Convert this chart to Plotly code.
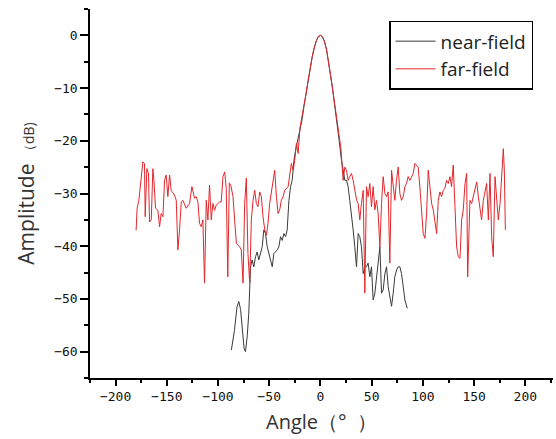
import plotly.graph_objects as go

# ---- data ----
far_angle = [-180, -179, -177.3, -175.0, -173.4, -171.8, -171.1, -169.5, -167.9, -166.9,
             -165.2, -163.6, -162.6, -161.0, -158.7, -157.1, -155.5, -153.8, -152.2, -150.6,
             -149.0, -147.3, -145.7, -144.1, -142.5, -140.8, -139.2, -137.6, -135.9, -134.3,
             -132.7, -131.1, -127.8, -125.5, -122.9, -121.3, -119.7, -118.0, -116.4, -114.8,
             -113.2, -111.5, -109.9, -108.3, -106.6, -105.0, -103.4, -101.8, -100.1, -98.5,
             -96.9, -95.2, -93.5, -92.0, -90.5, -89.0, -87.5, -85.4, -83.8, -82.1,
             -78.9, -77.3, -75.6, -74.0, -72.4, -70.8, -69.1, -67.5, -65.8, -64.2,
             -62.6, -61.0, -59.3, -57.7, -56.1, -54.4, -52.8, -51.2, -49.6, -47.9,
             -46.3, -44.7, -43.0, -41.4, -39.8, -38.2, -36.5, -34.9, -31.6, -30.0,
             -28.4, -26.7, -25.1, -23.5, -21.8, -20, -18, -16, -14, -12,
             -10, -8, -6, -4, -2, 0, 2, 4, 6, 8,
             10, 12, 14, 16, 18, 20, 22.1, 23.8, 25.4, 27.0,
             28.6, 30.3, 31.9, 33.5, 35.2, 36.8, 38.4, 40.0, 41.7, 43.3,
             44.9, 46.5, 48.2, 49.8, 51.4, 53.1, 54.7, 56.3, 58.0, 59.6,
             61.2, 62.9, 64.5, 66.1, 67.7, 69.4, 71.0, 72.6, 74.2, 75.9,
             77.5, 79.1, 80.8, 82.4, 84.0, 85.6, 87.3, 90.5, 92.2, 95.4,
             97.0, 98.7, 100.3, 102.0, 103.6, 105.2, 106.8, 108.5, 110.1, 111.7,
             113.4, 115.0, 116.6, 118.2, 119.9, 121.5, 123.1, 124.8, 126.4, 128.0,
             129.6, 131.3, 132.9, 134.5, 136.2, 137.8, 139.4, 141.1, 142.7, 143.7,
             145.9, 147.6, 149.2, 150.8, 152.5, 154.1, 155.7, 157.3, 159.0, 160.6,
             162.2, 163.9, 165.5, 167.1, 168.7, 170.4, 172.0, 173.6, 175.3, 176.9,
             178.5, 179.5, 180.5]
far_db = [-37.0, -32.8, -31.3, -26.5, -24.0, -24.3, -34.4, -25.3, -26.2, -35.4,
          -35.0, -25.3, -27.5, -32.8, -33.2, -36.3, -33.8, -34.4, -27.5, -26.5,
          -30.6, -26.5, -29.5, -29.8, -30.3, -31.3, -40.7, -37.0, -31.6, -31.3,
          -31.9, -32.8, -31.9, -28.7, -30.9, -30.6, -31.6, -35.7, -36.3, -35.0,
          -47.0, -31.3, -35.0, -28.4, -35.0, -31.9, -33.2, -32.2, -31.9, -31.6,
          -31.6, -26.8, -25.9, -29.0, -45.8, -28.0, -28.5, -30.6, -35.0, -39.5,
          -40.1, -40.7, -47.0, -31.9, -27.1, -41.4, -47.0, -35.0, -31.3, -29.4,
          -31.9, -32.5, -29.7, -30.6, -34.4, -36.9, -37.9, -35.7, -31.9, -30.0,
          -27.5, -25.6, -30.6, -33.8, -33.1, -31.3, -30.6, -29.4, -28.7, -26.8,
          -24.3, -25.6, -23.7, -20.5, -22.4, -17.5, -15.5, -13.3, -11.0, -8.5,
          -6.0, -4.0, -2.3, -1.0, -0.2, 0.0, -0.3, -1.2, -2.8, -5.0,
          -7.8, -10.4, -13.2, -16.0, -18.8, -21.5, -27.5, -25.0, -25.6, -27.5,
          -26.8, -26.2, -27.5, -29.5, -31.2, -31.9, -35.0, -31.9, -29.4, -48.9,
          -28.7, -30.6, -28.1, -32.5, -28.7, -33.1, -31.3, -33.8, -40.1, -31.9,
          -26.8, -30.0, -30.6, -29.7, -43.2, -25.6, -28.7, -31.3, -27.5, -25.0,
          -30.0, -31.3, -30.6, -28.7, -28.1, -26.8, -27.5, -26.2, -24.3, -25.0,
          -28.7, -32.5, -37.6, -38.5, -33.8, -25.6, -28.1, -31.9, -33.1, -35.0,
          -37.6, -31.3, -29.7, -30.6, -29.4, -29.0, -27.5, -28.1, -26.8, -28.7,
          -24.6, -32.5, -40.1, -42.0, -42.3, -35.0, -33.1, -28.1, -26.2, -45.8,
          -31.3, -31.9, -30.6, -29.4, -27.8, -30.6, -33.1, -35.0, -31.3, -30.0,
          -28.1, -35.0, -26.2, -38.2, -42.0, -26.8, -30.6, -35.0, -31.9, -25.6,
          -21.5, -25.6, -36.9]

near_angle = [-87.0, -84.0, -81.5, -79.7, -78.0, -76.0, -74.5, -73.2, -71.5, -70.0,
              -68.3, -66.7, -65.1, -63.4, -61.8, -60.2, -58.5, -56.9, -55.3, -53.6,
              -52.0, -50.4, -48.8, -47.1, -45.5, -43.9, -42.2, -40.6, -39.0, -37.4,
              -35.7, -34.1, -32.5, -30.8, -29.2, -27.6, -25.9, -24.3, -21.0, -18.0,
              -16, -14, -12, -10, -8, -6, -4, -2, 0, 2,
              4, 6, 8, 10, 12, 14, 16, 18.9, 20.5, 22.1,
              23.8, 25.4, 27.0, 28.6, 30.3, 31.9, 33.5, 35.2, 36.8, 38.4,
              40.0, 41.7, 43.3, 44.9, 46.5, 48.2, 49.8, 51.4, 53.1, 54.7,
              56.3, 58.0, 59.6, 61.2, 62.9, 64.5, 66.1, 67.7, 69.4, 71.0,
              72.6, 74.3, 75.9, 77.5, 79.1, 80.8, 82.4, 84.7]
near_db = [-59.7, -56.0, -51.5, -50.5, -52.0, -56.5, -59.5, -60.0, -57.0, -52.7,
           -43.9, -42.6, -43.9, -42.0, -41.1, -42.6, -41.4, -40.1, -36.9, -37.6,
           -40.1, -41.4, -42.6, -43.9, -41.4, -41.1, -40.7, -40.1, -38.2, -38.9,
           -37.6, -38.2, -36.9, -31.3, -28.7, -27.5, -23.7, -21.8, -18.6, -16.0,
           -13.3, -11.0, -8.5, -6.0, -4.0, -2.3, -1.0, -0.2, 0.0, -0.3,
           -1.2, -2.8, -5.0, -7.8, -10.4, -13.2, -16.0, -21.0, -23.7, -25.6,
           -27.5, -27.5, -28.7, -31.3, -33.8, -36.9, -40.1, -43.9, -37.6, -38.2,
           -40.1, -45.2, -43.9, -43.9, -43.2, -45.8, -43.9, -50.2, -48.9, -46.4,
           -43.9, -40.1, -48.9, -48.3, -45.2, -43.9, -47.7, -49.6, -51.4, -48.9,
           -45.8, -44.5, -43.9, -43.9, -45.2, -47.7, -50.2, -51.8]

x_ticks = [-200, -150, -100, -50, 0, 50, 100, 150, 200]
y_ticks = [0, -10, -20, -30, -40, -50, -60]

fig = go.Figure()
fig.add_trace(go.Scatter(x=near_angle, y=near_db, mode="lines", name="near-field",
                         line=dict(color="#3a3a3a", width=1)))
fig.add_trace(go.Scatter(x=far_angle, y=far_db, mode="lines", name="far-field",
                         line=dict(color="#e3262b", width=1)))

tickfont = dict(family="DejaVu Sans Mono", size=13, color="#111111")

fig.update_layout(
    width=556, height=439,
    margin=dict(l=90, r=3, t=9, b=61),
    paper_bgcolor="white", plot_bgcolor="white",
    showlegend=True,
    legend=dict(x=0.646, y=0.968, xanchor="left", yanchor="top",
                bgcolor="white", bordercolor="black", borderwidth=1.5,
                font=dict(family="Open Sans", size=19, color="#222222"),
                tracegroupgap=0, itemwidth=40,
                entrywidth=125, entrywidthmode="pixels"),
    xaxis=dict(range=[-225, 227], tickvals=x_ticks, ticks="outside", ticklen=6,
               tickwidth=1.5, tickcolor="black", showline=True, linecolor="black",
               linewidth=1.5, showgrid=False, zeroline=False, tickfont=tickfont,
               minor=dict(ticks="outside", dtick=25, tick0=0, ticklen=3,
                          tickwidth=1.5, tickcolor="black", showgrid=False),
               title=dict(text="Angle（°  ）",
                          font=dict(family="Open Sans", size=20, color="#333333"),
                          standoff=12)),
    yaxis=dict(range=[-65, 5], tickvals=y_ticks, ticks="outside", ticklen=8,
               tickwidth=1.5, tickcolor="black", showline=True, linecolor="black",
               linewidth=1.5, showgrid=False, zeroline=False, tickfont=tickfont,
               minor=dict(ticks="outside", dtick=5, tick0=0, ticklen=4,
                          tickwidth=1.5, tickcolor="black", showgrid=False),
               title=dict(text="Amplitude <span style='font-size:14px'>（dB)</span>",
                          font=dict(family="Open Sans", size=21, color="#333333"),
                          standoff=14)),
)

fig.write_html("out.html")
